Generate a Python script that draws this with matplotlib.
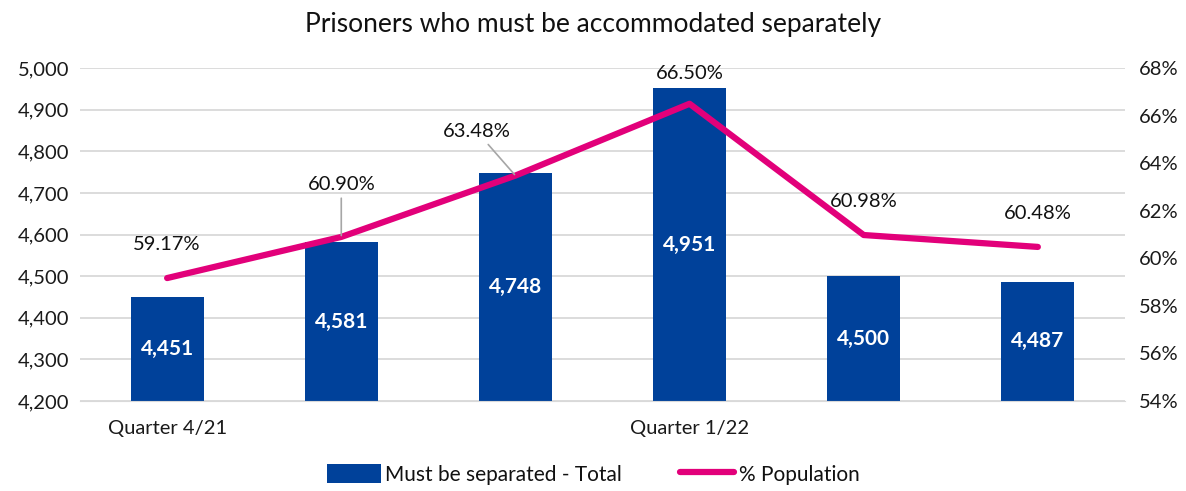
import matplotlib.pyplot as plt
import numpy as np

plt.rcParams['font.family'] = ['Lato', 'DejaVu Sans']

# data
categories = ['Quarter 4/21', '', '', 'Quarter 1/22', '', '']
separated = [4451, 4581, 4748, 4951, 4500, 4487]
pct_population = [59.17, 60.90, 63.48, 66.50, 60.98, 60.48]

bar_color = '#00419a'
line_color = '#e2007a'

fig = plt.figure(figsize=(11.86, 4.91), dpi=100)
ax = fig.add_axes([0.0675, 0.1833, 0.881, 0.678])
x = np.arange(len(separated))

ax.bar(x, separated, width=0.42, color=bar_color, zorder=2, label='Must be separated - Total')
ax.set_ylim(4200, 5000)
ax.set_yticks(np.arange(4200, 5001, 100))
ax.set_yticklabels(['{:,}'.format(v) for v in range(4200, 5001, 100)], fontsize=14.5, color='#1a1a1a')
ax.set_xlim(-0.5, 5.5)
ax.set_xticks(x)
ax.set_xticklabels(categories, fontsize=14.5, color='#1a1a1a')
ax.grid(axis='y', color='#d9d9d9', linewidth=1.3, zorder=0)
for s in ['top', 'right', 'left']:
    ax.spines[s].set_visible(False)
ax.spines['bottom'].set_color('#d9d9d9')
ax.tick_params(length=0, pad=8)
ax.tick_params(axis='x', pad=14)

# bar labels in middle of bar
for xi, v in zip(x, separated):
    ax.text(xi, (v + 4200) / 2, '{:,}'.format(v), ha='center', va='center',
            color='white', fontsize=15, fontweight='bold', zorder=4)

ax2 = ax.twinx()
ax2.plot(x, pct_population, color=line_color, linewidth=4.5, solid_capstyle='round',
         zorder=3, label='% Population')
ax2.set_ylim(54, 68)
ax2.set_yticks(np.arange(54, 69, 2))
ax2.set_yticklabels(['{}%'.format(v) for v in range(54, 69, 2)], fontsize=14.5, color='#1a1a1a')
for s in ax2.spines.values():
    s.set_visible(False)
ax2.tick_params(length=0, pad=10)

# percentage labels (offsets in points)
offsets = [(0, 24), (0, 38), (-28, 32), (0, 22), (0, 24), (0, 24)]
for xi, v, off in zip(x, pct_population, offsets):
    arrow = None
    if off[1] > 30:
        arrow = dict(arrowstyle='-', color='#a6a6a6', lw=1.2, shrinkA=2, shrinkB=1)
    ax2.annotate('{:.2f}%'.format(v), xy=(xi, v), xytext=off, textcoords='offset points',
                 ha='center', va='center', fontsize=14.5, color='#111111', arrowprops=arrow)

fig.suptitle('Prisoners who must be accommodated separately', fontsize=19, y=0.975, color='#111111')

h1, l1 = ax.get_legend_handles_labels()
h2, l2 = ax2.get_legend_handles_labels()
leg = fig.legend(h1 + h2, l1 + l2, loc='lower center', bbox_to_anchor=(0.5, -0.025), ncol=2,
                 frameon=False, fontsize=15, handlelength=2.6, handleheight=1.0,
                 columnspacing=2.8, handletextpad=0.2)
for t in leg.get_texts():
    t.set_color('#111111')

fig.savefig('out.png', dpi=100)
